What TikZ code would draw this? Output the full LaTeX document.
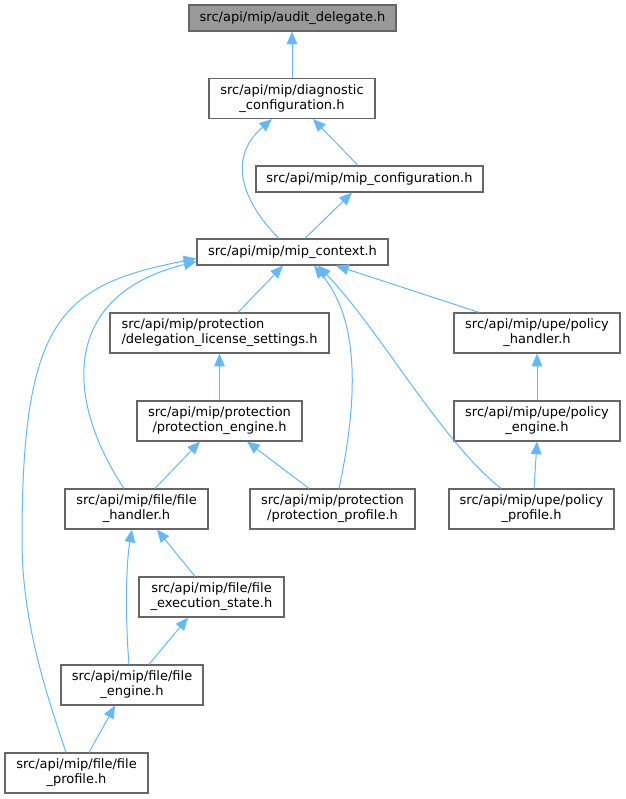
\documentclass[tikz,border=0pt]{standalone}
\usepackage{fontspec}
\setmainfont{DejaVu Sans}
\usetikzlibrary{arrows.meta,calc}
\definecolor{edgeblue}{HTML}{63B8FF}
\definecolor{boxline}{HTML}{666666}
\definecolor{rootfill}{HTML}{999999}

\begin{document}
\begin{tikzpicture}[
    x=0.75pt, y=-0.75pt,
    box/.style={rectangle, draw=boxline, fill=white, line width=0.9pt, inner sep=0pt, minimum height=19.5pt, align=center, font=\fontsize{9.75}{11.25}\selectfont},
    tall/.style={minimum height=30pt},
    arrow/.style={-{Triangle[length=9.5pt,width=8pt]}, draw=edgeblue, line width=0.75pt}
]
\useasboundingbox (0,0) rectangle (625,799);

% Top
\node[box, fill=rootfill, minimum width=155.25pt] (audit) at (292.5,18) {src/api/mip/audit\_delegate.h};
\node[box, tall, minimum width=124.5pt] (diag) at (292,98.5) {src/api/mip/diagnostic\\\_configuration.h};
\node[box, minimum width=170.25pt] (mipconf) at (369.5,179) {src/api/mip/mip\_configuration.h};
\node[box, minimum width=143.25pt] (ctx) at (292.5,252) {src/api/mip/mip\_context.h};

% Protection and policy
\node[box, tall, align=left, minimum width=164.25pt] (deleg) at (219.5,333) {src/api/mip/protection\\/delegation\_license\_settings.h};
\node[box, tall, minimum width=124.5pt] (polhand) at (537,333) {src/api/mip/upe/policy\\\_handler.h};
\node[box, tall, minimum width=123.75pt] (protengine) at (219.5,421) {src/api/mip/protection\\/protection\_engine.h};
\node[box, tall, minimum width=124.5pt] (polengine) at (537,421) {src/api/mip/upe/policy\\\_engine.h};
\node[box, tall, minimum width=107.25pt] (filehand) at (136.5,509) {src/api/mip/file/file\\\_handler.h};
\node[box, tall, minimum width=123.75pt] (protprof) at (332.5,509) {src/api/mip/protection\\/protection\_profile.h};
\node[box, tall, minimum width=123.75pt] (polprof) at (531.5,509) {src/api/mip/upe/policy\\\_profile.h};

% File
\node[box, tall, minimum width=108.75pt] (execstate) at (211.5,597) {src/api/mip/file/file\\\_execution\_state.h};
\node[box, tall, minimum width=106.5pt] (fileeng) at (132,685) {src/api/mip/file/file\\\_engine.h};
\node[box, tall, minimum width=107.25pt] (fileprof) at (76.5,773) {src/api/mip/file/file\\\_profile.h};

% Arrows
\draw[arrow] (diag.north) -- (diag.north |- audit.south);
\draw[arrow] ($(mipconf.north)+(-11.5,0)$) -- ($(diag.south)+(21,0)$);
\draw[arrow] ($(ctx.north)+(-13.5,0)$) .. controls (250,210) and (222,162) .. ($(diag.south)+(-20,0)$);
\draw[arrow] ($(ctx.north)+(12.5,0)$) -- ($(mipconf.south)+(-17.5,0)$);
\draw[arrow] ($(deleg.north)+(18.5,0)$) -- ($(ctx.south)+(-9.5,0)$);
\draw[arrow] ($(polhand.north)+(-58,0)$) -- ($(ctx.south)+(43.5,0)$);
\draw[arrow] ($(filehand.north)+(-12.5,0)$) .. controls (65,400) and (60,295) .. ($(ctx.south west)+(0,-4)$);
\draw[arrow] ($(fileprof.north)+(-10.5,0)$) .. controls (45,690) and (22,620) .. (22,540) .. controls (22,320) and (60,285) .. ($(ctx.south west)+(0,-7)$);
\draw[arrow] ($(protprof.north)+(6.5,0)$) .. controls (358,400) and (360,320) .. ($(ctx.south)+(21.5,0)$);
\draw[arrow] ($(polprof.north)+(-30.5,0)$) .. controls (440,440) and (380,330) .. ($(ctx.south)+(25.5,0)$);
\draw[arrow] (protengine.north) -- (deleg.south);
\draw[arrow] (polengine.north) -- (polhand.south);
\draw[arrow] ($(filehand.north)+(18.5,0)$) -- ($(protengine.south)+(-19.5,0)$);
\draw[arrow] ($(protprof.north)+(-23.5,0)$) -- ($(protengine.south)+(27.5,0)$);
\draw[arrow] ($(polprof.north)+(2.5,0)$) -- (polengine.south);
\draw[arrow] ($(execstate.north)+(-16.5,0)$) -- ($(filehand.south)+(20.5,0)$);
\draw[arrow] ($(fileeng.north)+(-3,0)$) .. controls (126,630) and (125,570) .. ($(filehand.south)+(-4.5,0)$);
\draw[arrow] ($(fileeng.north)+(17,0)$) -- ($(execstate.south)+(-23.5,0)$);
\draw[arrow] ($(fileprof.north)+(12.5,0)$) -- ($(fileeng.south)+(-17,0)$);

\end{tikzpicture}
\end{document}
